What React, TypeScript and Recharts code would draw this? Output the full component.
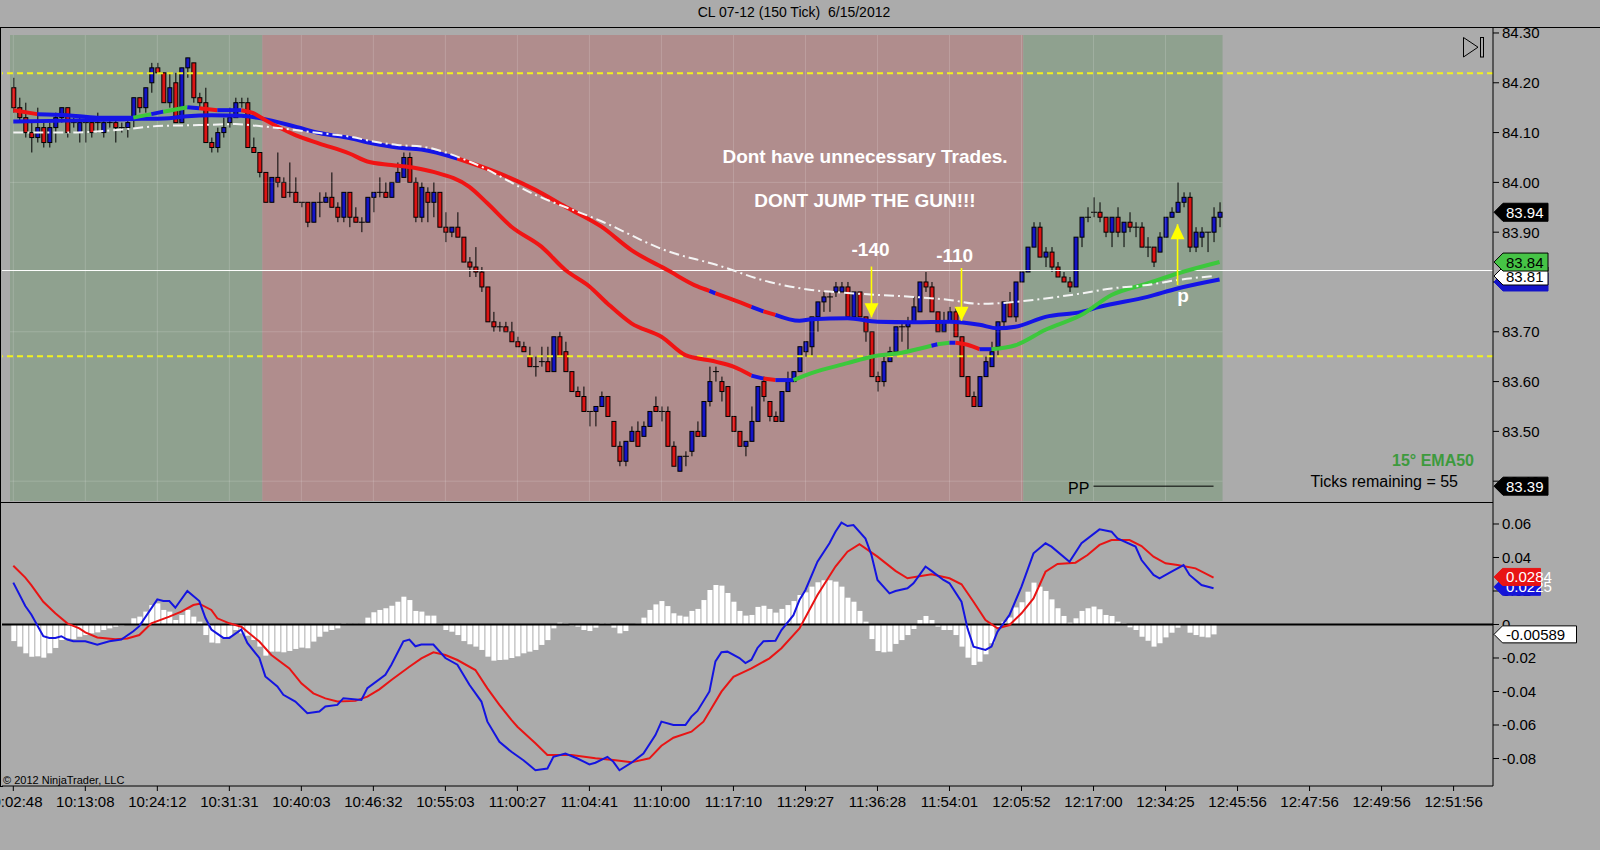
import React from 'react';
import { ComposedChart, Bar, Line, XAxis, YAxis, ReferenceLine, ReferenceArea, ReferenceDot } from 'recharts';

const FONT = "'Liberation Sans', Arial, sans-serif";
const BG = '#ababab';
const GREEN_BG = '#8fa18f';
const RED_BG = '#b08d8d';
const CANDLE_UP = '#1414c8';
const CANDLE_DN = '#dc1414';
const LINE_COL: Record<string, string> = { r: '#f01414', b: '#1414e6', g: '#3cc83c' };

// ---------- price candles (150 tick) ----------
const OPEN = [
  84.19,84.15,84.13,84.10,84.09,84.11,84.08,84.11,84.13,84.15,
  84.12,84.10,84.12,84.12,84.12,84.10,84.12,84.12,84.11,84.11,
  84.13,84.17,84.15,84.20,84.23,84.22,84.16,84.20,84.12,84.23,
  84.24,84.17,84.16,84.08,84.07,84.10,84.12,84.13,84.16,84.16,
  84.07,84.06,84.02,83.96,84.01,84.00,83.98,83.98,83.96,83.96,
  83.92,83.96,83.96,83.97,83.95,83.93,83.98,83.93,83.92,83.92,
  83.97,83.98,83.98,83.97,84.00,84.01,84.05,84.00,83.93,83.98,
  83.96,83.98,83.91,83.90,83.91,83.89,83.84,83.83,83.82,83.79,
  83.72,83.71,83.71,83.70,83.68,83.67,83.65,83.63,83.64,83.64,
  83.62,83.69,83.66,83.62,83.58,83.57,83.54,83.54,83.55,83.57,
  83.52,83.47,83.44,83.48,83.50,83.49,83.51,83.55,83.54,83.54,
  83.47,83.42,83.45,83.46,83.50,83.49,83.56,83.62,83.60,83.59,
  83.53,83.50,83.47,83.48,83.52,83.60,83.56,83.53,83.52,83.58,
  83.60,83.62,83.66,83.67,83.73,83.76,83.77,83.78,83.78,83.79,
  83.73,83.78,83.73,83.70,83.61,83.60,83.64,83.66,83.71,83.71,
  83.72,83.74,83.80,83.79,83.74,83.70,83.72,83.74,83.69,83.61,
  83.57,83.55,83.61,83.63,83.67,83.72,83.76,83.73,83.80,83.82,
  83.87,83.91,83.85,83.86,83.83,83.81,83.80,83.79,83.89,83.93,
  83.94,83.94,83.93,83.90,83.93,83.90,83.92,83.91,83.91,83.87,
  83.87,83.86,83.89,83.93,83.94,83.96,83.97,83.87,83.89,83.90,
  83.90,83.93,
];
const HIGH = [
  84.21,84.17,84.16,84.12,84.15,84.12,84.12,84.14,84.15,84.15,
  84.13,84.13,84.13,84.13,84.14,84.13,84.13,84.13,84.12,84.13,
  84.17,84.17,84.19,84.24,84.24,84.22,84.22,84.22,84.23,84.25,
  84.24,84.18,84.19,84.09,84.11,84.13,84.15,84.17,84.17,84.17,
  84.09,84.06,84.02,84.01,84.06,84.01,84.04,84.01,83.96,83.96,
  83.96,83.98,83.98,84.02,83.96,83.98,83.98,83.95,83.93,83.97,
  83.98,84.01,84.00,84.00,84.04,84.06,84.06,84.01,84.00,83.99,
  84.00,83.98,83.94,83.91,83.94,83.89,83.85,83.87,83.83,83.79,
  83.74,83.72,83.72,83.72,83.69,83.68,83.67,83.65,83.67,83.67,
  83.69,83.70,83.68,83.62,83.59,83.59,83.54,83.55,83.58,83.57,
  83.52,83.48,83.48,83.51,83.52,83.52,83.54,83.57,83.55,83.55,
  83.48,83.45,83.46,83.50,83.52,83.56,83.63,83.63,83.61,83.59,
  83.53,83.50,83.48,83.55,83.59,83.61,83.56,83.54,83.58,83.62,
  83.62,83.67,83.68,83.73,83.76,83.78,83.78,83.80,83.80,83.80,
  83.78,83.78,83.73,83.70,83.62,83.65,83.67,83.71,83.72,83.73,
  83.77,83.80,83.82,83.80,83.74,83.74,83.75,83.75,83.69,83.61,
  83.58,83.61,83.65,83.68,83.72,83.76,83.78,83.80,83.82,83.87,
  83.92,83.92,83.87,83.87,83.84,83.82,83.81,83.89,83.93,83.95,
  83.97,83.96,83.93,83.93,83.95,83.92,83.94,83.92,83.92,83.89,
  83.87,83.90,83.93,83.95,84.00,83.98,83.98,83.91,83.91,83.90,
  83.95,83.96,
];
const LOW = [
  84.14,84.12,84.09,84.06,84.08,84.07,84.07,84.08,84.12,84.09,
  84.11,84.08,84.08,84.09,84.10,84.09,84.11,84.08,84.10,84.09,
  84.11,84.14,84.14,84.18,84.22,84.16,84.15,84.12,84.12,84.21,
  84.16,84.15,84.08,84.06,84.06,84.09,84.11,84.13,84.15,84.07,
  84.06,84.01,83.96,83.96,83.99,83.97,83.97,83.96,83.95,83.91,
  83.92,83.93,83.96,83.95,83.92,83.92,83.91,83.92,83.90,83.92,
  83.94,83.97,83.97,83.97,84.00,84.01,84.00,83.92,83.92,83.92,
  83.93,83.91,83.88,83.89,83.89,83.84,83.81,83.81,83.78,83.72,
  83.70,83.70,83.70,83.68,83.67,83.66,83.63,83.61,83.63,83.62,
  83.62,83.65,83.62,83.58,83.57,83.54,83.51,83.51,83.55,83.53,
  83.47,83.43,83.43,83.48,83.47,83.49,83.51,83.54,83.52,83.47,
  83.43,83.42,83.43,83.45,83.49,83.49,83.55,83.60,83.56,83.53,
  83.50,83.47,83.45,83.48,83.52,83.56,83.52,83.52,83.52,83.58,
  83.60,83.62,83.65,83.65,83.70,83.74,83.74,83.77,83.78,83.73,
  83.73,83.73,83.68,83.61,83.58,83.59,83.64,83.66,83.68,83.66,
  83.72,83.74,83.78,83.74,83.70,83.70,83.72,83.69,83.61,83.57,
  83.55,83.55,83.61,83.63,83.65,83.71,83.73,83.72,83.80,83.82,
  83.87,83.85,83.83,83.82,83.81,83.80,83.78,83.79,83.87,83.92,
  83.93,83.92,83.89,83.87,83.89,83.87,83.90,83.89,83.87,83.85,
  83.83,83.86,83.89,83.93,83.94,83.95,83.86,83.86,83.87,83.86,
  83.88,83.91,
];
const CLOSE = [
  84.15,84.13,84.10,84.09,84.11,84.08,84.11,84.13,84.15,84.10,
  84.12,84.12,84.12,84.10,84.12,84.12,84.12,84.11,84.11,84.12,
  84.17,84.15,84.19,84.23,84.22,84.16,84.19,84.12,84.23,84.25,
  84.17,84.16,84.08,84.07,84.10,84.11,84.13,84.16,84.16,84.07,
  84.06,84.02,83.96,84.01,84.00,83.97,83.98,83.96,83.96,83.92,
  83.96,83.96,83.97,83.95,83.93,83.98,83.93,83.92,83.92,83.97,
  83.98,83.98,83.97,84.00,84.02,84.05,84.00,83.93,83.99,83.96,
  83.98,83.91,83.90,83.91,83.89,83.84,83.83,83.82,83.79,83.72,
  83.71,83.71,83.70,83.68,83.67,83.66,83.63,83.63,83.64,83.62,
  83.69,83.65,83.62,83.58,83.57,83.54,83.54,83.55,83.57,83.53,
  83.47,83.44,83.48,83.50,83.47,83.51,83.54,83.54,83.54,83.47,
  83.43,83.45,83.45,83.50,83.49,83.56,83.60,83.62,83.58,83.53,
  83.50,83.47,83.48,83.52,83.59,83.57,83.53,83.52,83.58,83.60,
  83.62,83.67,83.68,83.73,83.76,83.77,83.77,83.79,83.79,83.73,
  83.78,83.73,83.70,83.61,83.60,83.64,83.66,83.71,83.71,83.72,
  83.75,83.80,83.79,83.74,83.70,83.72,83.74,83.69,83.61,83.57,
  83.55,83.61,83.64,83.66,83.72,83.76,83.73,83.80,83.82,83.87,
  83.91,83.85,83.86,83.83,83.81,83.80,83.79,83.89,83.93,83.93,
  83.94,83.93,83.90,83.93,83.90,83.92,83.91,83.91,83.87,83.87,
  83.84,83.89,83.93,83.94,83.96,83.97,83.87,83.90,83.90,83.90,
  83.93,83.94,
];

// ---------- moving averages: [bar, value, colour of the following segment] ----------
const EMA_FAST: [number, number, string][] = [
  [0,84.145,'r'],[4,84.137,'b'],[9,84.135,'b'],[14,84.130,'b'],[20,84.130,'g'],
  [23,84.137,'b'],[25,84.142,'g'],[29,84.151,'b'],[31,84.149,'r'],[34,84.145,'b'],
  [38,84.145,'r'],[40,84.139,'r'],[42,84.125,'r'],[47,84.095,'r'],[51,84.078,'r'],
  [56,84.058,'r'],[59,84.042,'r'],[63,84.035,'r'],[67,84.029,'r'],[70,84.021,'r'],
  [76,83.991,'r'],[79,83.958,'r'],[83,83.911,'r'],[88,83.871,'r'],[92,83.824,'r'],
  [96,83.791,'r'],[99,83.757,'r'],[103,83.717,'r'],[108,83.690,'r'],[112,83.653,'r'],
  [117,83.640,'r'],[120,83.630,'r'],[123,83.612,'b'],[125,83.606,'r'],[127,83.603,'b'],
  [130,83.603,'g'],[133,83.617,'g'],[139,83.637,'g'],[143,83.650,'g'],[148,83.658,'g'],
  [153,83.672,'b'],[154,83.675,'g'],[156,83.678,'b'],[157,83.678,'r'],[159,83.674,'r'],
  [161,83.665,'b'],[163,83.665,'g'],[167,83.673,'g'],[172,83.704,'g'],[178,83.734,'g'],
  [183,83.774,'g'],[189,83.797,'g'],[194,83.817,'g'],[201,83.840,'g'],
];
const EMA_SLOW: [number, number, string][] = [
  [0,84.122,'b'],[9,84.124,'b'],[19,84.127,'b'],[26,84.129,'b'],[29,84.133,'b'],
  [33,84.135,'b'],[38,84.134,'b'],[41,84.129,'b'],[47,84.112,'b'],[51,84.099,'b'],
  [56,84.089,'b'],[60,84.078,'b'],[64,84.070,'b'],[68,84.066,'b'],[74,84.048,'r'],
  [81,84.018,'r'],[87,83.985,'r'],[92,83.951,'r'],[98,83.911,'r'],[103,83.864,'r'],
  [109,83.824,'r'],[114,83.791,'r'],[116,83.782,'b'],[117,83.777,'r'],[120,83.764,'r'],
  [123,83.750,'b'],[125,83.741,'r'],[127,83.734,'b'],[131,83.722,'b'],[133,83.725,'b'],
  [139,83.727,'b'],[144,83.720,'b'],[150,83.719,'b'],[156,83.720,'b'],[161,83.714,'b'],
  [164,83.707,'b'],[167,83.710,'b'],[172,83.730,'b'],[178,83.740,'b'],[181,83.750,'b'],
  [189,83.770,'b'],[194,83.787,'b'],[201,83.805,'b'],
];
const MA_WHITE: [number, number][] = [
  [0,84.100],[9,84.100],[19,84.107],[24,84.113],[31,84.115],[37,84.117],[41,84.113],
  [47,84.105],[51,84.099],[56,84.092],[60,84.082],[64,84.075],[68,84.072],[76,84.042],
  [87,83.975],[98,83.922],[109,83.862],[117,83.835],[126,83.800],[133,83.784],[139,83.778],
  [144,83.774],[150,83.770],[156,83.764],[161,83.756],[167,83.760],[172,83.767],[178,83.777],
  [183,83.787],[189,83.794],[194,83.804],[200,83.812],
];

// ---------- MACD panel ----------
const HIST = [
  -0.0099,-0.0132,-0.0172,-0.0192,-0.0190,-0.0198,-0.0172,-0.0140,-0.0093,-0.0083,
  -0.0087,-0.0073,-0.0063,-0.0053,-0.0047,-0.0033,-0.0023,-0.0013,-0.0007,0.0003,
  0.0037,0.0047,0.0077,0.0116,0.0126,0.0087,0.0077,0.0027,0.0057,0.0087,
  0.0047,0.0017,-0.0063,-0.0108,-0.0112,-0.0083,-0.0073,-0.0033,-0.0053,-0.0067,
  -0.0093,-0.0132,-0.0186,-0.0162,-0.0162,-0.0166,-0.0158,-0.0146,-0.0138,-0.0142,
  -0.0102,-0.0073,-0.0043,-0.0033,-0.0023,0.0007,0.0005,0.0005,0.0005,0.0041,
  0.0073,0.0087,0.0097,0.0112,0.0136,0.0166,0.0146,0.0081,0.0077,0.0053,
  0.0053,0.0005,-0.0033,-0.0043,-0.0063,-0.0099,-0.0118,-0.0132,-0.0152,-0.0192,
  -0.0216,-0.0212,-0.0210,-0.0200,-0.0190,-0.0172,-0.0162,-0.0152,-0.0122,-0.0093,
  -0.0023,0.0011,0.0007,-0.0007,-0.0013,-0.0033,-0.0039,-0.0019,0.0007,0.0007,
  -0.0019,-0.0053,-0.0039,0.0002,0.0005,0.0041,0.0087,0.0120,0.0140,0.0110,
  0.0067,0.0053,0.0047,0.0081,0.0093,0.0146,0.0206,0.0236,0.0232,0.0188,
  0.0136,0.0081,0.0053,0.0057,0.0105,0.0112,0.0093,0.0071,0.0093,0.0116,
  0.0140,0.0176,0.0192,0.0226,0.0252,0.0264,0.0264,0.0256,0.0226,0.0160,
  0.0136,0.0081,0.0017,-0.0087,-0.0158,-0.0166,-0.0162,-0.0116,-0.0093,-0.0063,
  -0.0027,0.0027,0.0051,0.0027,-0.0013,-0.0033,-0.0033,-0.0063,-0.0132,-0.0198,
  -0.0242,-0.0222,-0.0178,-0.0112,-0.0023,0.0017,0.0042,0.0102,0.0133,0.0196,
  0.0250,0.0226,0.0200,0.0150,0.0097,0.0051,0.0011,0.0037,0.0081,0.0097,
  0.0107,0.0091,0.0057,0.0051,0.0017,0.0007,-0.0017,-0.0033,-0.0073,-0.0097,
  -0.0132,-0.0112,-0.0077,-0.0049,-0.0019,0.0003,-0.0049,-0.0063,-0.0073,-0.0077,
  -0.0059,
];
const MACD: [number, number][] = [
  [0,0.025],[2,0.011],[3,0.006],[5,-0.007],[6,-0.008],[7,-0.008],[8,-0.007],[9,-0.009],[10,-0.010],
  [12,-0.010],[14,-0.012],[16,-0.010],[18,-0.009],[20,-0.004],[21,-0.001],[24,0.015],[25,0.014],
  [26,0.014],[27,0.010],[29,0.020],[31,0.014],[32,0.004],[33,-0.003],[35,-0.008],[36,-0.008],
  [38,-0.003],[39,-0.011],[41,-0.020],[42,-0.031],[44,-0.037],[45,-0.042],[47,-0.046],[49,-0.053],
  [51,-0.052],[52,-0.049],[54,-0.048],[55,-0.044],[58,-0.045],[59,-0.038],[62,-0.030],[63,-0.024],
  [65,-0.010],[66,-0.009],[67,-0.013],[68,-0.012],[70,-0.012],[72,-0.020],[74,-0.024],[76,-0.036],
  [78,-0.046],[79,-0.058],[81,-0.070],[83,-0.076],[85,-0.081],[87,-0.087],[89,-0.086],[90,-0.079],
  [92,-0.077],[94,-0.080],[96,-0.0835],[97,-0.0825],[99,-0.079],[100,-0.082],[101,-0.087],
  [103,-0.0825],[105,-0.077],[107,-0.066],[108,-0.058],[110,-0.060],[112,-0.060],[113,-0.055],
  [114,-0.0516],[116,-0.040],[117,-0.022],[118,-0.0166],[119,-0.0162],[121,-0.020],[122,-0.023],
  [123,-0.021],[124,-0.014],[125,-0.010],[127,-0.0097],[128,-0.0033],[130,0.0056],[131,0.0146],
  [132,0.0206],[134,0.0375],[136,0.0485],[137,0.0554],[138,0.0608],[139,0.0588],[140,0.0594],
  [142,0.0513],[143,0.0415],[144,0.0266],[146,0.0186],[147,0.020],[149,0.0216],[150,0.0246],
  [152,0.0346],[153,0.032],[155,0.0266],[156,0.0246],[158,0.0136],[159,-0.0023],[160,-0.0132],
  [162,-0.0152],[163,-0.0132],[164,-0.0043],[166,0.0057],[168,0.0226],[170,0.0425],[172,0.0485],
  [173,0.0465],[176,0.0375],[178,0.0485],[181,0.0568],[183,0.0554],[184,0.0514],[187,0.0465],
  [188,0.0385],[190,0.0296],[191,0.0276],[193,0.0315],[195,0.0355],[196,0.0296],[198,0.0236],
  [200,0.0216],
];
const SIGNAL: [number, number][] = [
  [0,0.0351],[2,0.028],[3,0.0235],[5,0.0136],[7,0.0067],[9,0.0007],[11,-0.0023],[12,-0.0047],
  [14,-0.0077],[17,-0.0088],[19,-0.0083],[21,-0.0063],[23,0.0007],[26,0.0047],[28,0.0077],
  [30,0.0116],[31,0.0124],[33,0.0087],[34,0.0037],[36,0.0007],[38,-0.0013],[39,-0.0043],
  [41,-0.0102],[43,-0.0182],[46,-0.0262],[48,-0.0351],[50,-0.0411],[52,-0.0441],[54,-0.046],
  [57,-0.0456],[59,-0.0431],[61,-0.0387],[63,-0.0331],[66,-0.0252],[68,-0.0202],[70,-0.0166],
  [72,-0.0182],[74,-0.0212],[77,-0.0272],[79,-0.0381],[81,-0.048],[83,-0.057],[84,-0.061],
  [87,-0.0709],[89,-0.0779],[93,-0.0779],[97,-0.0799],[100,-0.0809],[103,-0.0823],[106,-0.0799],
  [108,-0.0724],[110,-0.0676],[113,-0.064],[115,-0.058],[118,-0.0401],[120,-0.0312],[123,-0.0262],
  [126,-0.0202],[128,-0.0142],[131,-0.0023],[134,0.0176],[137,0.0346],[139,0.0435],[141,0.0479],
  [144,0.0405],[147,0.032],[149,0.0276],[153,0.030],[156,0.0276],[158,0.024],[160,0.0136],
  [162,0.0027],[164,-0.0023],[166,-0.0003],[168,0.0067],[170,0.0156],[172,0.0315],[174,0.0361],
  [177,0.0369],[179,0.0415],[181,0.0475],[183,0.0504],[186,0.0504],[188,0.0468],[190,0.0405],
  [192,0.0365],[194,0.0355],[197,0.0335],[200,0.028],
];

// ---------- axes ----------
const TIME_LABELS = ['10:02:48','10:13:08','10:24:12','10:31:31','10:40:03','10:46:32','10:55:03','11:00:27','11:04:41','11:10:00','11:17:10','11:29:27','11:36:28','11:54:01','12:05:52','12:17:00','12:34:25','12:45:56','12:47:56','12:49:56','12:51:56'];
const TIME_TICKS = [0,12,24,36,48,60,72,84,96,108,120,132,144,156,168,180,192,204,216,228,240];
const PRICE_TICKS = [83.4,83.5,83.6,83.7,83.8,83.9,84.0,84.1,84.2,84.3];
const MACD_TICKS = [-0.08,-0.06,-0.04,-0.02,0,0.02,0.04,0.06];
const X_DOMAIN: [number, number] = [-1.883, 246.567];
const PRICE_DOMAIN: [number, number] = [83.3582, 84.3120];
const MACD_DOMAIN: [number, number] = [-0.096418, 0.073134];

// ---------- chart annotations ----------
const SESSIONS = [
  { x1: -0.55, x2: 41.5, fill: GREEN_BG },
  { x1: 41.5, x2: 168.3, fill: RED_BG },
  { x1: 168.3, x2: 201.5, fill: GREEN_BG },
];
const SHADE_Y: [number, number] = [83.360, 84.296];
const GRID_PRICES = [84.0, 83.7, 83.4];
const YELLOW_LEVELS = [84.219, 83.651];
const WHITE_LEVEL = 83.823;
const PIVOT = 83.39;
const ARROWS = [
  { i: 143, from: 83.831, to: 83.729, up: false },
  { i: 158, from: 83.828, to: 83.722, up: false },
  { i: 194, from: 83.794, to: 83.916, up: true },
];
const PRICE_TAGS = [
  { v: 83.94, text: '83.94', fill: '#000', color: '#fff', border: '#000' },
  { v: 83.80, text: '', fill: '#1414c8', color: '#fff', border: '#1414c8' },
  { v: 83.812, text: '83.81', fill: '#fff', color: '#000', border: '#000' },
  { v: 83.84, text: '83.84', fill: '#46c346', color: '#000', border: '#000' },
  { v: 83.39, text: '83.39', fill: '#000', color: '#fff', border: '#000' },
];
const MACD_TAGS = [
  { v: 0.0225, text: '0.0225', fill: '#1414d8', color: '#fff', w: 38 },
  { v: 0.0284, text: '0.0284', fill: '#e81414', color: '#fff', w: 38 },
  { v: -0.00589, text: '-0.00589', fill: '#fff', color: '#000', w: 74 },
];

const CANDLES = OPEN.map((o, i) => ({ i, o, h: HIGH[i], l: LOW[i], c: CLOSE[i], range: [LOW[i], HIGH[i]] }));
const HIST_DATA = HIST.map((h, i) => ({ i, h }));
const MACD_DATA = MACD.map(([i, v]) => ({ i, v }));
const SIGNAL_DATA = SIGNAL.map(([i, v]) => ({ i, v }));
const WHITE_DATA = MA_WHITE.map(([i, v]) => ({ i, v }));

function segments(pts: [number, number, string][]) {
  const segs: { color: string; data: { i: number; v: number }[] }[] = [];
  let cur: any = null;
  for (let k = 0; k < pts.length - 1; k++) {
    const col = pts[k][2];
    if (!cur || cur.color !== col) {
      cur = { color: col, data: [{ i: pts[k][0], v: pts[k][1] }] };
      segs.push(cur);
    }
    cur.data.push({ i: pts[k + 1][0], v: pts[k + 1][1] });
  }
  return segs;
}
const FAST_SEGS = segments(EMA_FAST);
const SLOW_SEGS = segments(EMA_SLOW);

function Candle(props: any) {
  const { x, y, width, height, payload } = props;
  if (x == null || y == null || !payload) return null;
  const cx = x + width / 2;
  let top = y;
  let hgt = height;
  if (hgt < 0) { top = y + hgt; hgt = -hgt; }
  const { o, c, h, l } = payload;
  const k = h > l ? hgt / (h - l) : 0;
  const yo = top + (h - o) * k;
  const yc = top + (h - c) * k;
  const bt = Math.min(yo, yc);
  const bb = Math.max(yo, yc);
  return (
    <g>
      <line x1={cx} x2={cx} y1={top} y2={top + hgt} stroke="#000" strokeWidth={1} />
      {o === c ? (
        <line x1={cx - 3} x2={cx + 3} y1={yo} y2={yo} stroke="#000" strokeWidth={1} />
      ) : (
        <rect x={cx - 2} y={bt} width={4} height={Math.max(bb - bt, 1)} fill={c > o ? CANDLE_UP : CANDLE_DN} stroke="#000" strokeWidth={1} />
      )}
    </g>
  );
}

const tagShape = (text: string, fill: string, color: string, border: string, w: number, hh: number) => (p: any) => {
  const { cx, cy } = p;
  const x0 = cx + 1;
  return (
    <g>
      <polygon points={`${x0},${cy} ${x0 + hh},${cy - hh} ${x0 + hh + w},${cy - hh} ${x0 + hh + w},${cy + hh} ${x0 + hh},${cy + hh}`} fill={fill} stroke={border} strokeWidth={1} />
      {text ? <text x={cx + 13} y={cy + 5.5} fill={color} fontSize={15} fontFamily={FONT}>{text}</text> : null}
    </g>
  );
};

const arrowHead = (up: boolean) => (p: any) => {
  const { cx, cy } = p;
  const b = up ? cy + 15 : cy - 14;
  return <polygon points={`${cx - 7},${b} ${cx + 7},${b} ${cx},${cy}`} fill="#ffff00" />;
};

const tickStyle = { fill: '#000', fontSize: 15, fontFamily: FONT };

export default function App() {
  return (
    <div style={{ position: 'fixed', left: 0, top: 0, width: 1600, height: 850, background: BG, overflow: 'hidden', fontFamily: FONT }}>
      {/* price panel */}
      <div style={{ position: 'absolute', left: 0, top: 0 }}>
        <ComposedChart width={1600} height={502} data={CANDLES} margin={{ top: 27, right: 0, bottom: 0, left: 2 }}>
          <XAxis dataKey="i" type="number" domain={X_DOMAIN} allowDataOverflow hide />
          <YAxis orientation="right" domain={PRICE_DOMAIN} allowDataOverflow ticks={PRICE_TICKS} interval={0}
            tickFormatter={(v: number) => v.toFixed(2)} width={107} tickSize={6} tickMargin={3}
            axisLine={{ stroke: '#000' }} tickLine={{ stroke: '#000' }} tick={tickStyle} />
          {SESSIONS.map((s, k) => (
            <ReferenceArea key={'s' + k} x1={s.x1} x2={s.x2} y1={SHADE_Y[0]} y2={SHADE_Y[1]} fill={s.fill} fillOpacity={1} stroke="none" />
          ))}
          {TIME_TICKS.filter((t) => t <= 201).map((t) => (
            <ReferenceLine key={'gv' + t} segment={[{ x: t, y: SHADE_Y[0] }, { x: t, y: SHADE_Y[1] }]} stroke="#ffffff" strokeOpacity={0.16} />
          ))}
          {GRID_PRICES.map((p) => (
            <ReferenceLine key={'gh' + p} segment={[{ x: SESSIONS[0].x1, y: p }, { x: SESSIONS[2].x2, y: p }]} stroke="#ffffff" strokeOpacity={0.16} />
          ))}
          {YELLOW_LEVELS.map((p) => (
            <ReferenceLine key={'y' + p} y={p} stroke="#f2f21e" strokeWidth={2} strokeDasharray="6 4" />
          ))}
          <ReferenceLine y={WHITE_LEVEL} stroke="#ffffff" strokeWidth={1} />
          <ReferenceLine segment={[{ x: 180, y: PIVOT }, { x: 200, y: PIVOT }]} stroke="#000" strokeWidth={1} />
          <Bar dataKey="range" barSize={5} shape={<Candle />} isAnimationActive={false} />
          {SLOW_SEGS.map((s, k) => (
            <Line key={'sl' + k} data={s.data} dataKey="v" type="monotone" stroke={LINE_COL[s.color]} strokeWidth={4} dot={false} activeDot={false} isAnimationActive={false} />
          ))}
          {FAST_SEGS.map((s, k) => (
            <Line key={'fa' + k} data={s.data} dataKey="v" type="monotone" stroke={LINE_COL[s.color]} strokeWidth={4} dot={false} activeDot={false} isAnimationActive={false} />
          ))}
          <Line data={WHITE_DATA} dataKey="v" type="monotone" stroke="#f4f4f4" strokeWidth={2} strokeDasharray="10 4 2 4" dot={false} activeDot={false} isAnimationActive={false} />
          {ARROWS.map((a, k) => (
            <ReferenceLine key={'as' + k} segment={[{ x: a.i, y: a.from }, { x: a.i, y: a.to }]} stroke="#ffff00" strokeWidth={1.6} />
          ))}
          {ARROWS.map((a, k) => (
            <ReferenceDot key={'ah' + k} x={a.i} y={a.to} r={1} ifOverflow="visible" shape={arrowHead(a.up)} />
          ))}
        </ComposedChart>
      </div>
      {/* MACD panel */}
      <div style={{ position: 'absolute', left: 0, top: 502 }}>
        <ComposedChart width={1600} height={330} data={HIST_DATA} margin={{ top: 0, right: 0, bottom: 0, left: 2 }}>
          <XAxis dataKey="i" type="number" domain={X_DOMAIN} allowDataOverflow ticks={TIME_TICKS} interval={0}
            tickFormatter={(v: number) => TIME_LABELS[TIME_TICKS.indexOf(v)] ?? ''} height={46} tickSize={5} tickMargin={5}
            axisLine={{ stroke: '#000' }} tickLine={{ stroke: '#000' }} tick={tickStyle} />
          <YAxis orientation="right" domain={MACD_DOMAIN} allowDataOverflow ticks={MACD_TICKS} interval={0}
            tickFormatter={(v: number) => (v === 0 ? '0' : v.toFixed(2))} width={107} tickSize={6} tickMargin={3}
            axisLine={{ stroke: '#000' }} tickLine={{ stroke: '#000' }} tick={tickStyle} />
          <Bar dataKey="h" barSize={5} fill="#ffffff" isAnimationActive={false} />
          <ReferenceLine y={0} stroke="#000" strokeWidth={2} />
          <Line data={SIGNAL_DATA} dataKey="v" type="linear" stroke="#e81414" strokeWidth={2} dot={false} activeDot={false} isAnimationActive={false} />
          <Line data={MACD_DATA} dataKey="v" type="linear" stroke="#1414e0" strokeWidth={2} dot={false} activeDot={false} isAnimationActive={false} />
        </ComposedChart>
      </div>
      {/* value tags drawn above the axis labels, on the same scales */}
      <div style={{ position: 'absolute', left: 0, top: 0 }}>
        <ComposedChart width={1600} height={502} data={CANDLES} margin={{ top: 27, right: 107, bottom: 0, left: 2 }}>
          <XAxis dataKey="i" type="number" domain={X_DOMAIN} allowDataOverflow hide />
          <YAxis domain={PRICE_DOMAIN} allowDataOverflow hide />
          {PRICE_TAGS.map((t, k) => (
            <ReferenceDot key={'pt' + k} x={X_DOMAIN[1]} y={t.v} r={1} ifOverflow="visible" shape={tagShape(t.text, t.fill, t.color, t.border, 45, 9)} />
          ))}
        </ComposedChart>
      </div>
      <div style={{ position: 'absolute', left: 0, top: 502 }}>
        <ComposedChart width={1600} height={330} data={HIST_DATA} margin={{ top: 0, right: 107, bottom: 46, left: 2 }}>
          <XAxis dataKey="i" type="number" domain={X_DOMAIN} allowDataOverflow hide />
          <YAxis domain={MACD_DOMAIN} allowDataOverflow hide />
          {MACD_TAGS.map((t, k) => (
            <ReferenceDot key={'mt' + k} x={X_DOMAIN[1]} y={t.v} r={1} ifOverflow="visible" shape={tagShape(t.text, t.fill, t.color, t.fill === '#fff' ? '#000' : t.fill, t.w, 8.5)} />
          ))}
        </ComposedChart>
      </div>
      <svg width={1600} height={850} style={{ position: 'absolute', left: 0, top: 0, pointerEvents: 'none' }}>
        <text x={794} y={17} textAnchor="middle" fontSize={14} fontFamily={FONT} fill="#000" style={{ whiteSpace: 'pre' }}>{'CL 07-12 (150 Tick)  6/15/2012'}</text>
        <line x1={0} x2={1600} y1={27.5} y2={27.5} stroke="#000" strokeWidth={1} />
        <line x1={0.5} x2={0.5} y1={27} y2={786} stroke="#000" strokeWidth={1} />
        <line x1={0} x2={1493} y1={502.5} y2={502.5} stroke="#000" strokeWidth={1} />
        <line x1={0} x2={3} y1={786.5} y2={786.5} stroke="#000" strokeWidth={1} />
        <text x={865} y={163} textAnchor="middle" fontSize={19} fontWeight="bold" fontFamily={FONT} fill="#fff">Dont have unnecessary Trades.</text>
        <text x={865} y={207} textAnchor="middle" fontSize={19} fontWeight="bold" fontFamily={FONT} fill="#fff">DONT JUMP THE GUN!!!</text>
        <text x={870.5} y={256} textAnchor="middle" fontSize={19} fontWeight="bold" fontFamily={FONT} fill="#fff">-140</text>
        <text x={954.7} y={261.7} textAnchor="middle" fontSize={19} fontWeight="bold" fontFamily={FONT} fill="#fff">-110</text>
        <text x={1183} y={302} textAnchor="middle" fontSize={19} fontWeight="bold" fontFamily={FONT} fill="#fff">p</text>
        <text x={1474} y={466} textAnchor="end" fontSize={16} fontWeight="bold" fontFamily={FONT} fill="#3d9a3d">15° EMA50</text>
        <text x={1458} y={487} textAnchor="end" fontSize={16} fontFamily={FONT} fill="#000">Ticks remaining = 55</text>
        <text x={1068} y={494} fontSize={16} fontFamily={FONT} fill="#000">PP</text>
        <polygon points="1463.5,37.5 1463.5,57 1478,47.2" fill="none" stroke="#000" strokeWidth={1} />
        <rect x={1480.5} y={37.5} width={3} height={19.5} fill="none" stroke="#000" strokeWidth={1} />
        <text x={3} y={784} fontSize={11} fontFamily={FONT} fill="#000">© 2012 NinjaTrader, LLC</text>
      </svg>
    </div>
  );
}
